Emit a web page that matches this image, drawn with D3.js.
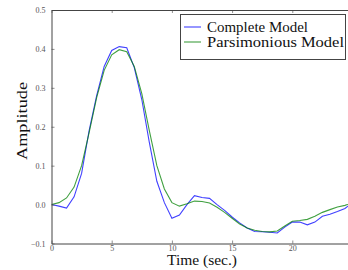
<!DOCTYPE html>
<html>
<head>
<meta charset="UTF-8">
<script src="https://d3js.org/d3.v7.min.js"></script>
<style>
  body { margin: 0; background: #fff; }
  text { font-family: "Liberation Serif", "DejaVu Serif", serif; }
</style>
</head>
<body>
<script>
  var width = 348, height = 270;

  // sample times (sec.)
  var times = [0, 0.625, 1.25, 1.875, 2.5, 3.125, 3.75, 4.375, 5, 5.625,
    6.25, 6.875, 7.5, 8.125, 8.75, 9.375, 10, 10.625, 11.25, 11.875,
    12.5, 13.125, 13.75, 14.375, 15, 15.625, 16.25, 16.875, 17.5, 18.125,
    18.75, 19.375, 20, 20.625, 21.25, 21.875, 22.5, 23.125, 23.75, 24.375, 25];
  // complete model amplitude
  var complete = [0.0, -0.004, -0.009, 0.02, 0.08, 0.19, 0.28, 0.355, 0.396, 0.406,
    0.403, 0.352, 0.27, 0.16, 0.06, 0.005, -0.035, -0.027, 0.0, 0.023,
    0.018, 0.016, 0.0, -0.015, -0.032, -0.047, -0.06, -0.069, -0.07, -0.071,
    -0.073, -0.058, -0.045, -0.045, -0.052, -0.045, -0.03, -0.025, -0.018, -0.01, 0.005];
  // parsimonious model amplitude
  var parsimonious = [0.0, 0.005, 0.017, 0.045, 0.1, 0.185, 0.275, 0.345, 0.385, 0.398,
    0.393, 0.355, 0.285, 0.19, 0.1, 0.04, 0.005, -0.004, 0.002, 0.009,
    0.008, 0.004, -0.007, -0.02, -0.035, -0.05, -0.06, -0.066, -0.069, -0.07,
    -0.068, -0.055, -0.043, -0.041, -0.038, -0.03, -0.02, -0.013, -0.006, -0.002, 0.005];

  var xTicks = [0, 5, 10, 15, 20];
  var yTicks = [-0.1, 0.0, 0.1, 0.2, 0.3, 0.4, 0.5];
  var seriesNames = ['Complete Model', 'Parsimonious Model'];
  var seriesColors = ['#0000ff', '#008000'];
  var legendWidths = [101, 137];

  var svg = d3.select('body').append('svg').attr('width', width).attr('height', height);

  var x = d3.scaleLinear().domain([0, 25]).range([51.5, 352.5]);
  var y = d3.scaleLinear().domain([-0.1, 0.5]).range([243.5, 10]);

  svg.append('defs').append('clipPath').attr('id', 'clip')
    .append('rect').attr('x', x(0)).attr('y', y(0.5)).attr('width', x(25) - x(0)).attr('height', y(-0.1) - y(0.5));

  // lines
  var line = d3.line().x(function(d) { return x(d[0]); }).y(function(d) { return y(d[1]); });
  [complete, parsimonious].forEach(function(vals, i) {
    svg.append('path')
      .datum(times.map(function(t, j) { return [t, vals[j]]; }))
      .attr('clip-path', 'url(#clip)')
      .attr('fill', 'none')
      .attr('stroke', seriesColors[i])
      .attr('stroke-opacity', 0.75)
      .attr('stroke-width', 1.1)
      .attr('d', line);
  });

  // axes (ticks inside)
  var axisColor = '#444';
  var gBottom = svg.append('g').attr('transform', 'translate(0,' + y(-0.1) + ')')
    .call(d3.axisBottom(x).tickValues(xTicks).tickFormat(d3.format('d')).tickSizeInner(-3).tickSizeOuter(0).tickPadding(2));
  var gTop = svg.append('g').attr('transform', 'translate(0,' + y(0.5) + ')')
    .call(d3.axisTop(x).tickValues(xTicks).tickFormat('').tickSizeInner(-3).tickSizeOuter(0));
  var gLeft = svg.append('g').attr('transform', 'translate(' + x(0) + ',0)')
    .call(d3.axisLeft(y).tickValues(yTicks).tickFormat(function(d) { return d3.format('.1f')(d).replace('-', '\u2212'); })
      .tickSizeInner(-3).tickSizeOuter(0).tickPadding(6));

  [gBottom, gTop, gLeft].forEach(function(g) {
    g.select('.domain').attr('stroke', axisColor).attr('stroke-width', 1);
    g.selectAll('.tick line').attr('stroke', axisColor).attr('stroke-width', 0.6);
    g.selectAll('.tick text').attr('fill', '#555').style('font-size', '8px')
      .style('font-family', '"Liberation Serif", serif');
  });

  // axis titles
  svg.append('text').attr('x', 202).attr('y', 265).attr('text-anchor', 'middle')
    .attr('textLength', 70).attr('lengthAdjust', 'spacingAndGlyphs')
    .style('font-size', '15px').attr('fill', '#111').text('Time (sec.)');
  svg.append('text').attr('transform', 'translate(27,121) rotate(-90)').attr('text-anchor', 'middle')
    .attr('textLength', 78).attr('lengthAdjust', 'spacingAndGlyphs')
    .style('font-size', '15px').attr('fill', '#111').text('Amplitude');

  // legend
  var lg = svg.append('g');
  lg.append('rect').attr('x', 180.5).attr('y', 14.5).attr('width', 165).attr('height', 45)
    .attr('fill', '#fff').attr('stroke', axisColor).attr('stroke-width', 1);
  seriesNames.forEach(function(name, i) {
    var ly = 27 + i * 15;
    lg.append('line').attr('x1', 184).attr('x2', 201).attr('y1', ly).attr('y2', ly)
      .attr('stroke', seriesColors[i]).attr('stroke-opacity', 0.75).attr('stroke-width', 1.1);
    lg.append('text').attr('x', 207).attr('y', ly + 5)
      .attr('textLength', legendWidths[i]).attr('lengthAdjust', 'spacingAndGlyphs')
      .style('font-size', '15px').attr('fill', '#111').text(name);
  });
</script>
</body>
</html>
